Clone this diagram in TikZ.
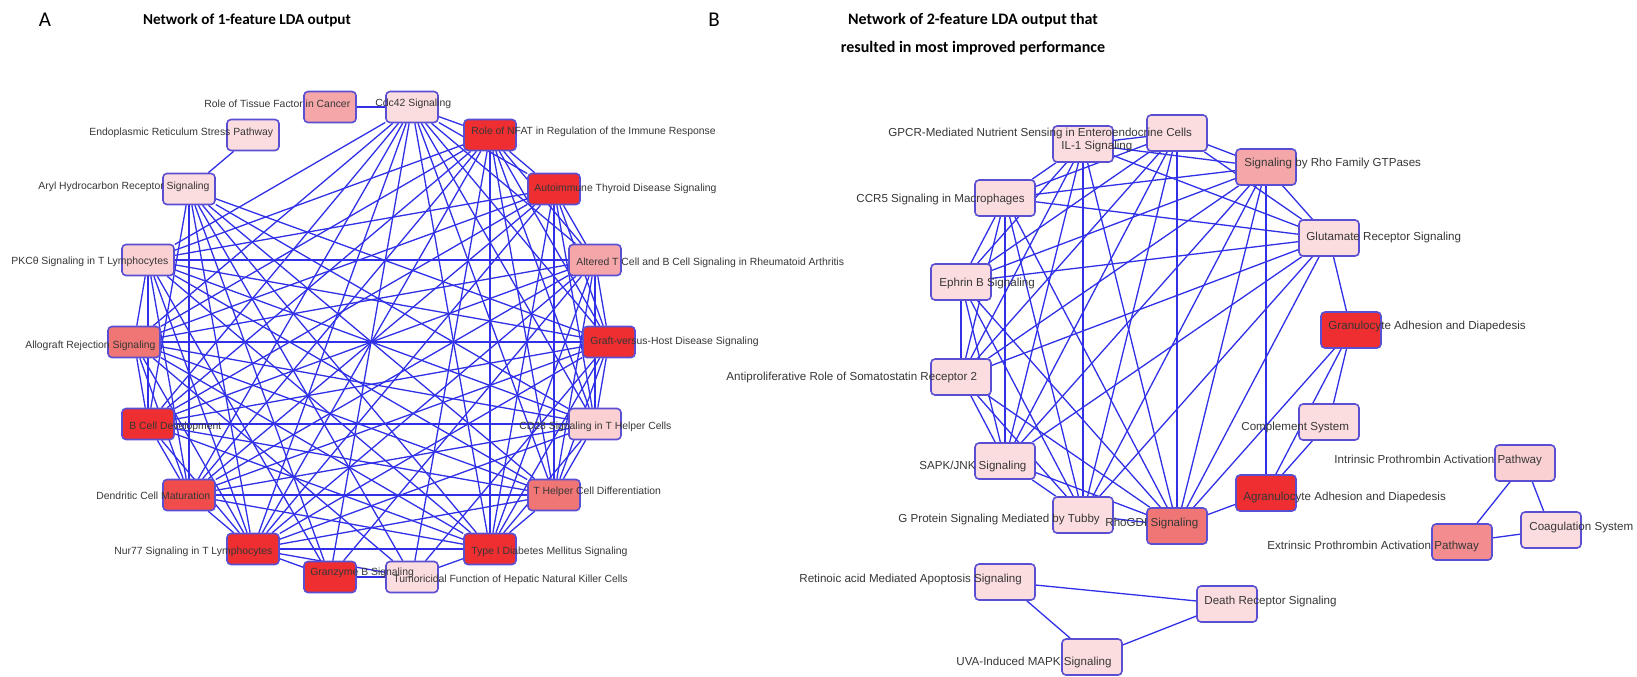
\documentclass[tikz,border=0pt]{standalone}
\usepackage{fontspec}
\setmainfont{Liberation Sans}
\newfontfamily\titlefont{Carlito}
\usetikzlibrary{backgrounds}
\definecolor{lightN}{RGB}{252,221,223}
\definecolor{lightM}{RGB}{250,208,210}
\definecolor{pinkN}{RGB}{244,166,168}
\definecolor{pinkM}{RGB}{242,140,142}
\definecolor{salmonN}{RGB}{240,118,118}
\definecolor{redM}{RGB}{240,76,76}
\definecolor{redN}{RGB}{238,46,48}
\definecolor{borderC}{RGB}{90,78,210}
\definecolor{edgeC}{RGB}{48,48,232}
\definecolor{labelC}{RGB}{55,55,55}
\begin{document}
\begin{tikzpicture}[x=0.5pt,y=-0.5pt,
  boxA/.style={draw=borderC, line width=0.8pt, rounded corners=2pt, minimum width=26pt, minimum height=15.5pt, inner sep=0pt},
  boxB/.style={boxA, minimum width=30pt, minimum height=18pt},
  lab/.style={anchor=west, inner sep=0pt, text=labelC, font=\fontsize{5.2}{6}\selectfont},
  labB/.style={lab, font=\fontsize{5.8}{7}\selectfont},
  edge/.style={draw=edgeC, line width=0.65pt},
  ttl/.style={font=\titlefont\bfseries\fontsize{8}{14}\selectfont, align=center, inner sep=0pt},
  letter/.style={font=\titlefont\fontsize{10.5}{11}\selectfont, inner sep=0pt}]
\useasboundingbox (0,0) rectangle (1637,676);

% titles
\node[letter] (lA) at (45,20) {A};
\node[ttl, font=\titlefont\bfseries\fontsize{7.6}{14}\selectfont] (tA) at (247,20) {Network of 1-feature LDA output};
\node[letter] (lB) at (714,20) {B};
\node[ttl] (tB) at (973,34) {Network of 2-feature LDA output that\\resulted in most improved performance};

% ---------- panel A boxes ----------
\node[boxA, fill=redN]    (a0)   at (609,342) {};
\node[boxA, fill=pinkN]   (a20)  at (595,260) {};
\node[boxA, fill=redN]    (a40)  at (554,189) {};
\node[boxA, fill=redN]    (a60)  at (490,135) {};
\node[boxA, fill=lightN]  (a80)  at (412,107) {};
\node[boxA, fill=pinkN]   (a100) at (330,107) {};
\node[boxA, fill=lightN]  (a120) at (253,135) {};
\node[boxA, fill=lightN]  (a140) at (189,189) {};
\node[boxA, fill=lightM]  (a160) at (148,260) {};
\node[boxA, fill=salmonN] (a180) at (134,342) {};
\node[boxA, fill=redN]    (a200) at (148,424) {};
\node[boxA, fill=redM]    (a220) at (189,495) {};
\node[boxA, fill=redN]    (a240) at (253,549) {};
\node[boxA, fill=redN]    (a260) at (330,577) {};
\node[boxA, fill=lightN]  (a280) at (412,577) {};
\node[boxA, fill=redN]    (a300) at (490,549) {};
\node[boxA, fill=salmonN] (a320) at (554,495) {};
\node[boxA, fill=lightM]  (a340) at (595,424) {};

% ---------- panel B boxes ----------
\node[boxB, fill=lightN]  (bG)   at (1177,133) {};
\node[boxB, fill=lightN]  (bI)   at (1083,144) {};
\node[boxB, fill=lightN]  (bC)   at (1005,198) {};
\node[boxB, fill=lightN]  (bE)   at (961,282) {};
\node[boxB, fill=lightN]  (bP)   at (961,377) {};
\node[boxB, fill=lightN]  (bS)   at (1005,461) {};
\node[boxB, fill=lightN]  (bT)   at (1083,515) {};
\node[boxB, fill=salmonN] (bR)   at (1177,526) {};
\node[boxB, fill=redN]    (bAg)  at (1266,493) {};
\node[boxB, fill=lightN]  (bCo)  at (1329,422) {};
\node[boxB, fill=redN]    (bGr)  at (1351,330) {};
\node[boxB, fill=lightN]  (bGl)  at (1329,238) {};
\node[boxB, fill=pinkN]   (bRF)  at (1266,167) {};
\node[boxB, fill=lightM]  (bIn)  at (1525,463) {};
\node[boxB, fill=lightN]  (bCg)  at (1551,530) {};
\node[boxB, fill=pinkM]   (bEx)  at (1462,542) {};
\node[boxB, fill=lightN]  (bD)   at (1227,604) {};
\node[boxB, fill=lightN]  (bRA)  at (1005,582) {};
\node[boxB, fill=lightN]  (bU)   at (1092,657) {};

% ---------- edges ----------
\begin{pgfonlayer}{background}
  \fill[white] (0,0) rectangle (1637,676);
  % panel A: dense core
  \foreach \u [count=\ci] in {a0,a20,a40,a60,a80,a160,a180,a200,a220,a240,a300,a320,a340}{
    \foreach \v [count=\cj] in {a0,a20,a40,a60,a80,a160,a180,a200,a220,a240,a300,a320,a340}{
      \ifnum\cj>\ci \draw[edge] (\u) -- (\v);\fi
    }
  }
  \foreach \v in {a0,a340,a320,a300,a280,a260,a240,a220,a200}{\draw[edge] (a140) -- (\v);}
  \foreach \v in {a240,a280,a80,a160,a20}{\draw[edge] (a260) -- (\v);}
  \foreach \v in {a300,a240,a180,a60,a0}{\draw[edge] (a280) -- (\v);}
  \draw[edge] (a120) -- (a140);
  \draw[edge] (a100) -- (a80);
  % panel B: core
  \foreach \u [count=\ci] in {bG,bI,bC,bE,bP,bS,bT,bR,bGl,bRF}{
    \foreach \v [count=\cj] in {bG,bI,bC,bE,bP,bS,bT,bR,bGl,bRF}{
      \ifnum\cj>\ci \draw[edge] (\u) -- (\v);\fi
    }
  }
  \foreach \u/\v in {bGr/bGl,bGr/bCo,bGr/bAg,bGr/bR,bCo/bAg,bAg/bR,bAg/bRF,
                     bIn/bEx,bIn/bCg,bEx/bCg,bRA/bD,bRA/bU,bU/bD}{
    \draw[edge] (\u) -- (\v);
  }
\end{pgfonlayer}

% ---------- panel A labels ----------
\node[lab] (la0)   at (590,342) {Graft-versus-Host Disease Signaling};
\node[lab] (la20)  at (576,263) {Altered T Cell and B Cell Signaling in Rheumatoid Arthritis};
\node[lab] (la40)  at (534,189) {Autoimmune Thyroid Disease Signaling};
\node[lab] (la60)  at (471,132) {Role of NFAT in Regulation of the Immune Response};
\node[lab] (la80)  at (375,104) {Cdc42 Signaling};
\node[lab] (la100) at (204,104) {Role of Tissue Factor in Cancer};
\node[lab] (la120) at (89,133)  {Endoplasmic Reticulum Stress Pathway};
\node[lab] (la140) at (38,187)  {Aryl Hydrocarbon Receptor Signaling};
\node[lab] (la160) at (11,262)  {PKCθ Signaling in T Lymphocytes};
\node[lab] (la180) at (25,346)  {Allograft Rejection Signaling};
\node[lab] (la200) at (129,427) {B Cell Development};
\node[lab] (la220) at (96,496)  {Dendritic Cell Maturation};
\node[lab] (la240) at (114,552) {Nur77 Signaling in T Lymphocytes};
\node[lab] (la260) at (310,573) {Granzyme B Signaling};
\node[lab] (la280) at (393,580) {Tumoricidal Function of Hepatic Natural Killer Cells};
\node[lab] (la300) at (471,552) {Type I Diabetes Mellitus Signaling};
\node[lab] (la320) at (533,492) {T Helper Cell Differentiation};
\node[lab] (la340) at (519,427) {CD28 Signaling in T Helper Cells};

% ---------- panel B labels ----------
\node[labB] (lbG)  at (888,133)  {GPCR-Mediated Nutrient Sensing in Enteroendocrine Cells};
\node[labB] (lbI)  at (1061,146) {IL-1 Signaling};
\node[labB] (lbC)  at (856,199)  {CCR5 Signaling in Macrophages};
\node[labB] (lbE)  at (939,283)  {Ephrin B Signaling};
\node[labB] (lbP)  at (726,377)  {Antiproliferative Role of Somatostatin Receptor 2};
\node[labB] (lbS)  at (919,466)  {SAPK/JNK Signaling};
\node[labB] (lbT)  at (898,519)  {G Protein Signaling Mediated by Tubby};
\node[labB] (lbR)  at (1105,523) {RhoGDI Signaling};
\node[labB] (lbAg) at (1243,497) {Agranulocyte Adhesion and Diapedesis};
\node[labB] (lbCo) at (1241,427) {Complement System};
\node[labB] (lbGr) at (1328,326) {Granulocyte Adhesion and Diapedesis};
\node[labB] (lbGl) at (1306,237) {Glutamate Receptor Signaling};
\node[labB] (lbRF) at (1244,163) {Signaling by Rho Family GTPases};
\node[labB] (lbIn) at (1334,460) {Intrinsic Prothrombin Activation Pathway};
\node[labB] (lbCg) at (1529,527) {Coagulation System};
\node[labB] (lbEx) at (1267,546) {Extrinsic Prothrombin Activation Pathway};
\node[labB] (lbD)  at (1204,601) {Death Receptor Signaling};
\node[labB] (lbRA) at (799,579)  {Retinoic acid Mediated Apoptosis Signaling};
\node[labB] (lbU)  at (956,662)  {UVA-Induced MAPK Signaling};
\end{tikzpicture}
\end{document}
